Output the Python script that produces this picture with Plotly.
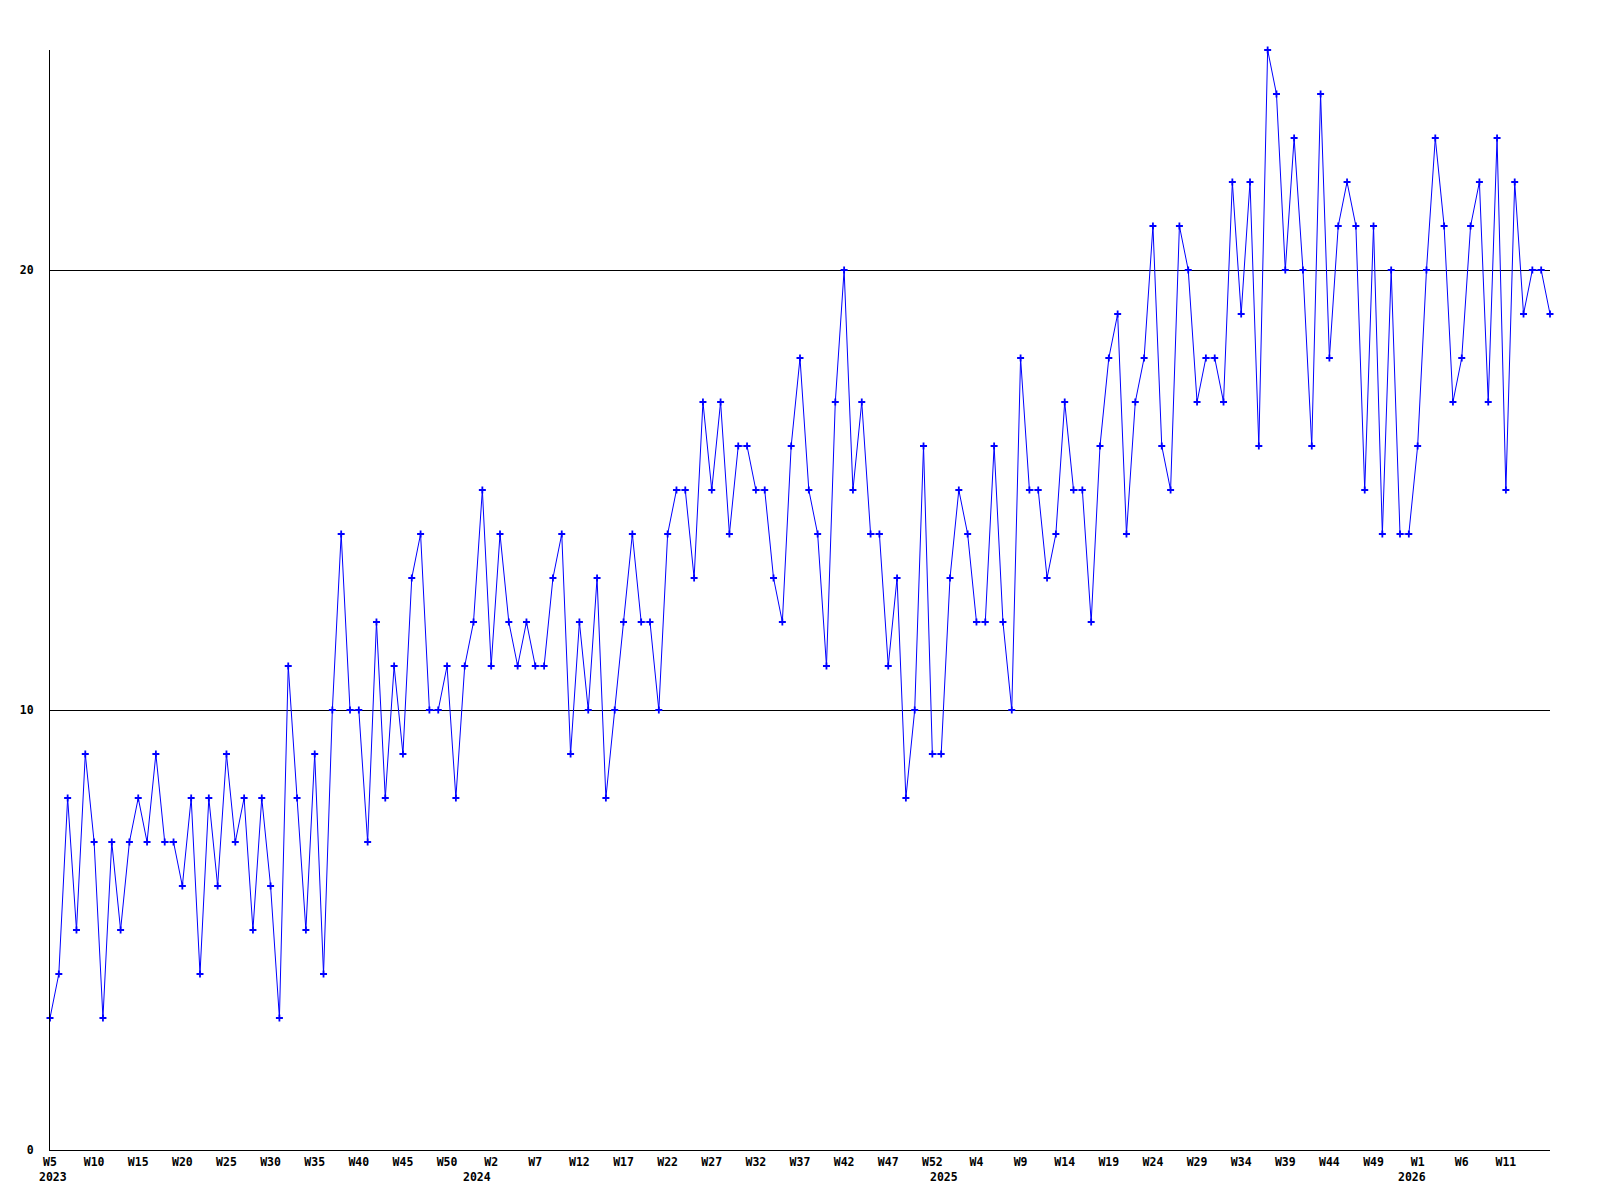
import plotly.graph_objects as go

# Weekly values, 2023-W5 .. 2026-W16 (one per week, weeks numbered W0..W52 per year)
values_2023 = [3, 4, 8, 5, 9, 7, 3, 7, 5, 7, 8, 7, 9, 7, 7, 6, 8, 4, 8, 6, 9, 7, 8, 5,
               8, 6, 3, 11, 8, 5, 9, 4, 10, 14, 10, 10, 7, 12, 8, 11, 9, 13, 14, 10, 10,
               11, 8, 11]
values_2024 = [12, 15, 11, 14, 12, 11, 12, 11, 11, 13, 14, 9, 12, 10, 13, 8, 10, 12, 14,
               12, 12, 10, 14, 15, 15, 13, 17, 15, 17, 14, 16, 16, 15, 15, 13, 12, 16, 18,
               15, 14, 11, 17, 20, 15, 17, 14, 14, 11, 13, 8, 10, 16, 9]
values_2025 = [9, 13, 15, 14, 12, 12, 16, 12, 10, 18, 15, 15, 13, 14, 17, 15, 15, 12, 16,
               18, 19, 14, 17, 18, 21, 16, 15, 21, 20, 17, 18, 18, 17, 22, 19, 22, 16, 25,
               24, 20, 23, 20, 16, 24, 18, 21, 22, 21, 15, 21, 14, 20, 14]
values_2026 = [14, 16, 20, 23, 21, 17, 18, 21, 22, 17, 23, 15, 22, 19, 20, 20, 19]

years = ["2023", "2024", "2025", "2026"]
tick_labels = ["W5", "W10", "W15", "W20", "W25", "W30", "W35", "W40", "W45", "W50",
               "W2", "W7", "W12", "W17", "W22", "W27", "W32", "W37", "W42", "W47", "W52",
               "W4", "W9", "W14", "W19", "W24", "W29", "W34", "W39", "W44", "W49",
               "W1", "W6", "W11"]
y_ticks = [0, 10, 20]

series = [values_2023, values_2024, values_2025, values_2026]
values = [v for s in series for v in s]
x = list(range(len(values)))

# year start positions on the index axis (2023 starts at W5)
year_start = []
pos = 0
for i, s in enumerate(series):
    year_start.append(pos - (5 if i == 0 else 0))
    pos += len(s)

FONT = "DejaVu Sans Mono"
TF = dict(family=FONT, size=11.5, color="black", weight="bold")

fig = go.Figure()
fig.add_trace(go.Scatter(
    x=x, y=values, mode="lines+markers",
    line=dict(color="#0000ff", width=1),
    marker=dict(symbol="cross-thin", size=5, line=dict(color="#0000ff", width=1.8), color="#0000ff"),
    cliponaxis=False, showlegend=False, hoverinfo="skip",
))

for i, yr in enumerate(years):
    if i == 0:
        fig.add_annotation(x=0, xref="x", y=0, yref="paper", text=yr, showarrow=False,
                           xanchor="left", yanchor="middle", xshift=-13, yshift=-27, font=TF)
    else:
        fig.add_annotation(x=year_start[i], xref="x", y=0, yref="paper", text=yr, showarrow=False,
                           xanchor="center", yanchor="middle", xshift=3, yshift=-27, font=TF)

fig.update_layout(
    width=1600, height=1200,
    margin=dict(l=42, r=58, t=42, b=58),
    paper_bgcolor="white", plot_bgcolor="white",
    font=TF,
    xaxis=dict(
        range=[0, len(values) - 1], showgrid=False, zeroline=False,
        showline=True, linecolor="black", linewidth=1,
        tickmode="array", tickvals=[i * 5 for i in range(len(tick_labels))], ticktext=tick_labels,
        ticks="", ticklabelstandoff=1, tickfont=TF,
    ),
    yaxis=dict(
        range=[0, 25], showgrid=True, gridcolor="black", gridwidth=1, zeroline=False,
        showline=True, linecolor="black", linewidth=1,
        tickmode="array", tickvals=y_ticks, ticktext=[str(v) for v in y_ticks],
        ticks="", ticklabelstandoff=13, tickfont=TF,
    ),
)

fig.write_html("out.html")
